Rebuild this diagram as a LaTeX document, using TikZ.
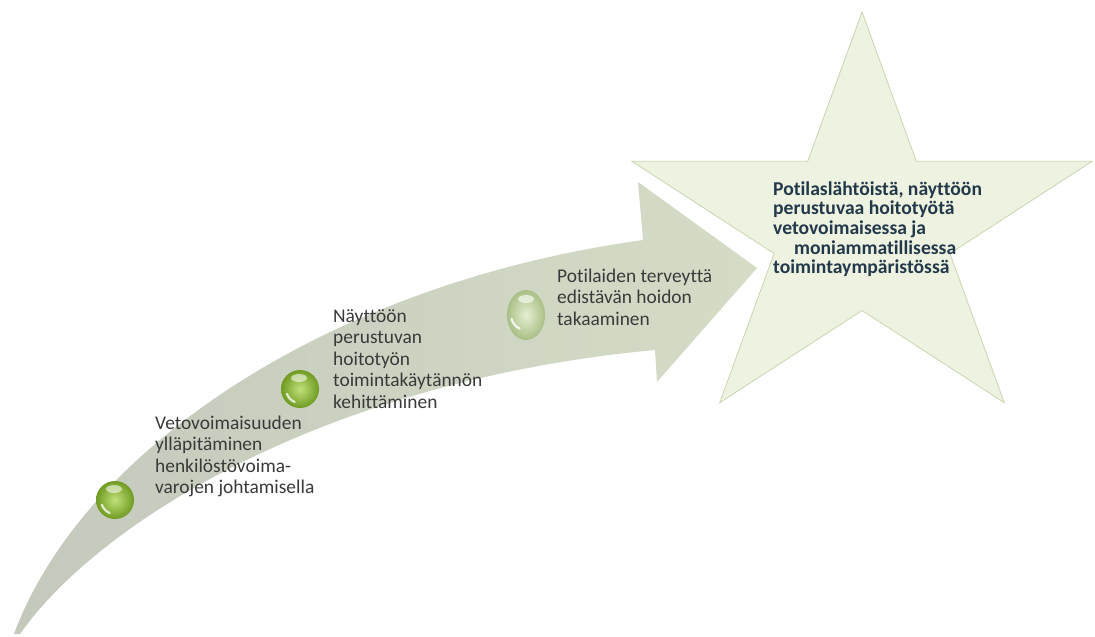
\documentclass[tikz,border=0pt]{standalone}
\usepackage{fontspec}
\setmainfont[Ligatures={NoCommon}]{Carlito}

\definecolor{arrowL}{HTML}{C4C9BC}
\definecolor{arrowR}{HTML}{D4DCC6}
\definecolor{starfill}{HTML}{EEF2E1}
\definecolor{starline}{HTML}{CAD6B2}
\definecolor{bodytext}{HTML}{3A3A3A}
\definecolor{goaltext}{HTML}{22394A}
\definecolor{ballhi}{HTML}{C2E07A}
\definecolor{balllo}{HTML}{6F9B22}
\definecolor{paleHi}{HTML}{E6EFD2}
\definecolor{paleLo}{HTML}{A9BF86}

\begin{document}
\begin{tikzpicture}[x=1pt,y=-1pt,
  bodylabel/.style={anchor=base west, inner sep=0pt, text=bodytext,
    font=\fontsize{19.4}{21.5}\selectfont},
  goallabel/.style={anchor=base west, inner sep=0pt, text=goaltext,
    font=\bfseries\fontsize{19.6}{19.7}\selectfont},
  ball/.pic={
    \shade[inner color=ballhi, outer color=balllo] (0,0) circle[radius=19];
    \fill[white, opacity=0.55] (-1,-11) ellipse[x radius=8, y radius=4];
    \draw[white, opacity=0.75, line width=2.2pt, line cap=round]
      (0,0) ++(112:14) arc[start angle=112, end angle=160, radius=14];
  },
  paleball/.pic={
    \shade[inner color=paleHi, outer color=paleLo] (0,0) ellipse[x radius=19, y radius=25];
    \fill[white, opacity=0.6] (0,-16) ellipse[x radius=8, y radius=4];
    \draw[white, opacity=0.85, line width=2.2pt, line cap=round]
      (0,0) ++(115:15) arc[start angle=115, end angle=165, radius=15];
  }]
\useasboundingbox (0,0) rectangle (1095,637);
\fill[white] (0,0) rectangle (1095,637);

% curved arrow sweeping up to the right
\shade[left color=arrowL, right color=arrowR]
  (14,634) .. controls (80,455) and (320,285) .. (643,240)
  -- (638,182) -- (757,268) -- (657,382) -- (655,350)
  .. controls (330,380) and (100,520) .. (20,634) -- cycle;

% goal star
\draw[fill=starfill, draw=starline, line width=0.8pt]
  (862,12) -- (916.3,161.3) -- (1092.1,161.3) -- (949.9,253.5)
  -- (1004.3,402.7) -- (862,310.5) -- (719.7,402.7) -- (774.1,253.5)
  -- (631.9,161.3) -- (807.7,161.3) -- cycle;

% milestones on the arrow
\pic at (115,500) {ball};
\pic at (300,389) {ball};
\pic at (526,315) {paleball};

% milestone labels
\node[bodylabel] (step1) at (155,429.3)
  {\begin{tabular}[t]{@{}l@{}}Vetovoimaisuuden\\ ylläpitäminen\\ henkilöstövoima-\\ varojen johtamisella\end{tabular}};
\node[bodylabel] (step2) at (333,322)
  {\begin{tabular}[t]{@{}l@{}}Näyttöön\\ perustuvan\\ hoitotyön\\ toimintakäytännön\\ kehittäminen\end{tabular}};
\node[bodylabel] (step3) at (557,282.3)
  {\begin{tabular}[t]{@{}l@{}}Potilaiden terveyttä\\ edistävän hoidon\\ takaaminen\end{tabular}};

% goal text inside the star
\node[goallabel] (goal) at (773,195)
  {\begin{tabular}[t]{@{}l@{}}Potilaslähtöistä, näyttöön\\ perustuvaa hoitotyötä\\ vetovoimaisessa ja\\ \hspace*{21pt}moniammatillisessa\\ toimintaympäristössä\end{tabular}};
\end{tikzpicture}
\end{document}
